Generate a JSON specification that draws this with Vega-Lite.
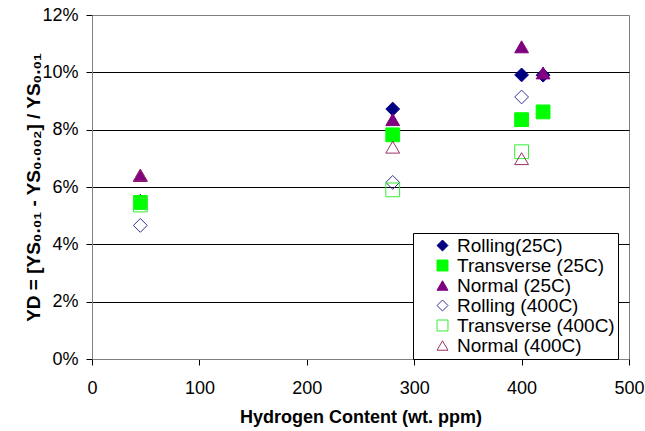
{
  "$schema": "https://vega.github.io/schema/vega-lite/v6.json",
  "width": 537,
  "height": 344,
  "autosize": {"type": "none"},
  "padding": {"left": 92, "top": 15, "right": 16, "bottom": 72},
  "background": "white",
  "config": {
    "font": "Liberation Sans",
    "view": {"stroke": "#808080", "strokeWidth": 1},
    "axis": {
      "labelFont": "Liberation Sans",
      "labelFontSize": 18,
      "labelColor": "black",
      "titleFont": "Liberation Sans",
      "titleFontSize": 18,
      "titleFontWeight": "bold",
      "titleColor": "black",
      "domainColor": "#808080",
      "tickColor": "black",
      "tickSize": 6,
      "gridColor": "black",
      "gridOpacity": 1,
      "gridWidth": 1
    },
    "legend": {
      "labelFont": "Liberation Sans",
      "labelFontSize": 19,
      "labelColor": "black"
    }
  },
  "data": {
    "values": [
      {"series": "Rolling(25C)", "h": 45, "yd": 0.055},
      {"series": "Rolling(25C)", "h": 280, "yd": 0.0872},
      {"series": "Rolling(25C)", "h": 400, "yd": 0.0991},
      {"series": "Rolling(25C)", "h": 420, "yd": 0.099},
      {"series": "Transverse (25C)", "h": 45, "yd": 0.0546},
      {"series": "Transverse (25C)", "h": 280, "yd": 0.0782},
      {"series": "Transverse (25C)", "h": 400, "yd": 0.0835},
      {"series": "Transverse (25C)", "h": 420, "yd": 0.0862},
      {"series": "Normal (25C)", "h": 45, "yd": 0.064},
      {"series": "Normal (25C)", "h": 280, "yd": 0.0835},
      {"series": "Normal (25C)", "h": 400, "yd": 0.1089},
      {"series": "Normal (25C)", "h": 420, "yd": 0.0998},
      {"series": "Rolling (400C)", "h": 45, "yd": 0.0466},
      {"series": "Rolling (400C)", "h": 280, "yd": 0.0616},
      {"series": "Rolling (400C)", "h": 400, "yd": 0.0914},
      {"series": "Transverse (400C)", "h": 45, "yd": 0.0537},
      {"series": "Transverse (400C)", "h": 280, "yd": 0.059},
      {"series": "Transverse (400C)", "h": 400, "yd": 0.0723},
      {"series": "Normal (400C)", "h": 45, "yd": 0.0642},
      {"series": "Normal (400C)", "h": 280, "yd": 0.0739},
      {"series": "Normal (400C)", "h": 400, "yd": 0.0699}
    ]
  },
  "mark": {"type": "point", "size": 190, "strokeWidth": 1, "opacity": 1},
  "encoding": {
    "x": {
      "field": "h",
      "type": "quantitative",
      "scale": {"domain": [0, 500], "nice": false},
      "axis": {
        "values": [0, 100, 200, 300, 400, 500],
        "grid": false,
        "title": "Hydrogen Content (wt. ppm)",
        "labelPadding": 14,
        "titlePadding": 11,
        "labelFlush": false
      }
    },
    "y": {
      "field": "yd",
      "type": "quantitative",
      "scale": {"domain": [0, 0.12], "nice": false},
      "axis": {
        "values": [0, 0.02, 0.04, 0.06, 0.08, 0.1, 0.12],
        "format": ".0%",
        "title": "YD = [YS₀.₀₁ - YS₀.₀₀₂] / YS₀.₀₁",
        "titleFontSize": 19,
        "labelPadding": 8,
        "titlePadding": -2,
        "gridColor": {"condition": {"test": "datum.value >= 0.119", "value": "#808080"}, "value": "black"}
      }
    },
    "shape": {
      "field": "series",
      "type": "nominal",
      "sort": null,
      "scale": {
        "domain": ["Rolling(25C)", "Transverse (25C)", "Normal (25C)", "Rolling (400C)", "Transverse (400C)", "Normal (400C)"],
        "range": ["diamond", "square", "triangle-up", "diamond", "square", "triangle-up"]
      },
      "legend": {
        "title": null,
        "orient": "none",
        "legendX": 321,
        "legendY": 218,
        "strokeColor": "black",
        "fillColor": "white",
        "padding": 3,
        "symbolOffset": 17,
        "symbolSize": 120,
        "symbolStrokeWidth": 1,
        "rowPadding": 0,
        "labelOffset": 5,
        "cornerRadius": 0
      }
    },
    "fill": {
      "field": "series",
      "type": "nominal",
      "sort": null,
      "scale": {
        "domain": ["Rolling(25C)", "Transverse (25C)", "Normal (25C)", "Rolling (400C)", "Transverse (400C)", "Normal (400C)"],
        "range": ["#000080", "#00FF00", "#800080", "transparent", "transparent", "transparent"]
      },
      "legend": {
        "title": null,
        "orient": "none",
        "legendX": 321,
        "legendY": 218
      }
    },
    "stroke": {
      "field": "series",
      "type": "nominal",
      "sort": null,
      "scale": {
        "domain": ["Rolling(25C)", "Transverse (25C)", "Normal (25C)", "Rolling (400C)", "Transverse (400C)", "Normal (400C)"],
        "range": ["#000080", "#00FF00", "#800080", "#333399", "#33EE33", "#993366"]
      },
      "legend": {
        "title": null,
        "orient": "none",
        "legendX": 321,
        "legendY": 218
      }
    }
  }
}
